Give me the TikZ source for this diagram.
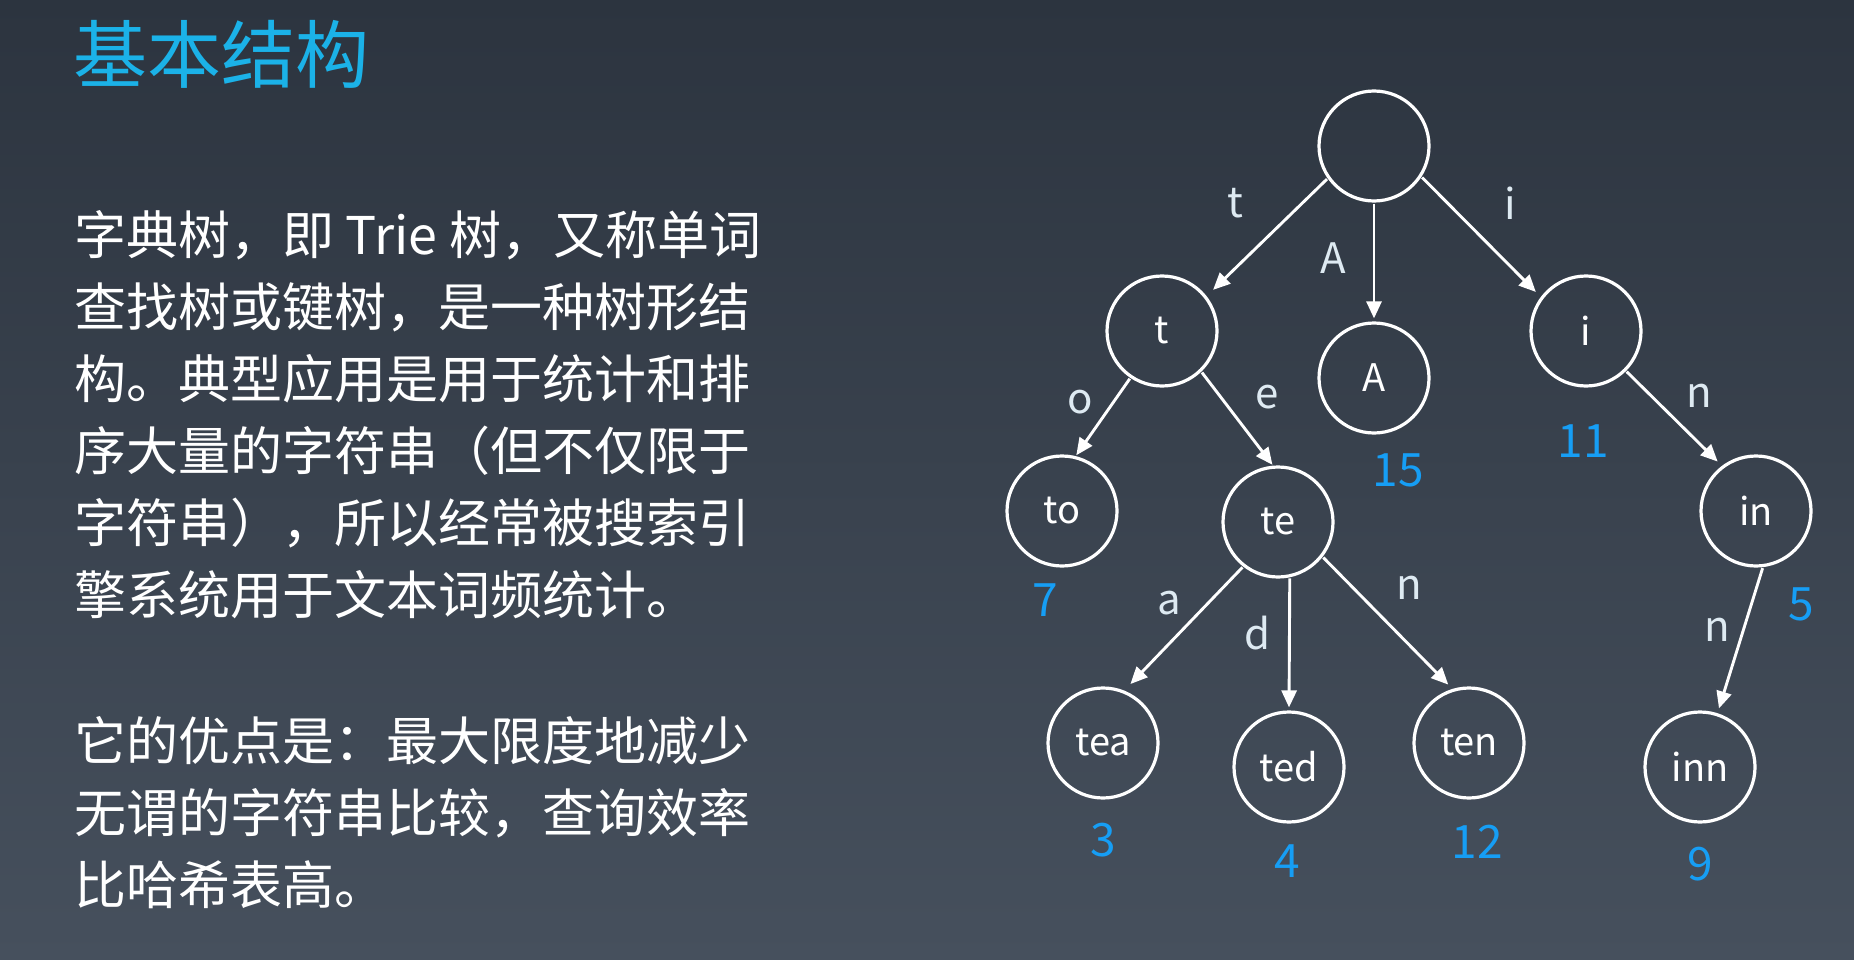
\documentclass[tikz,border=0pt]{standalone}
\usepackage{fontspec}
\setmainfont{Noto Sans CJK SC}
\usetikzlibrary{arrows.meta}
\definecolor{bgtop}{RGB}{44,52,63}
\definecolor{bgbot}{RGB}{70,80,93}
\definecolor{titleblue}{RGB}{27,178,232}
\definecolor{numblue}{RGB}{22,158,245}
\definecolor{lblcol}{RGB}{222,234,242}
\begin{document}
\begin{tikzpicture}[x=1pt,y=-1pt,
  trienode/.style={circle, draw=white, line width=3.2pt, minimum size=110pt, inner sep=0pt,
    text=white, font=\fontsize{38}{38}\selectfont},
  arr/.style={draw=white, line width=2.9pt, -{Triangle[length=17pt,width=15pt]},
    shorten <=1pt},
  edgelbl/.style={inner sep=0pt, text=lblcol, font=\fontsize{42}{42}\selectfont},
  countlbl/.style={inner sep=0pt, text=numblue, font=\fontsize{46}{46}\selectfont},
  bodyline/.style={anchor=base west, inner sep=0pt, text=white, font=\fontsize{52}{52}\selectfont},
  titletext/.style={anchor=base west, inner sep=0pt, text=titleblue, font=\fontsize{74}{74}\selectfont}]
\shade[top color=bgtop, bottom color=bgbot] (0,0) rectangle (1854,960);
\useasboundingbox (0,0) rectangle (1854,960);

% title and text
\node[titletext] (title) at (73,83) {基本结构};
\node[bodyline] (p1) at (74,254) {字典树，即 Trie 树，又称单词};
\node[bodyline] (p2) at (74,326) {查找树或键树，是一种树形结};
\node[bodyline] (p3) at (74,398) {构。典型应用是用于统计和排};
\node[bodyline] (p4) at (74,470) {序大量的字符串（但不仅限于};
\node[bodyline] (p5) at (74,542) {字符串），所以经常被搜索引};
\node[bodyline] (p6) at (74,614) {擎系统用于文本词频统计。};
\node[bodyline] (q1) at (74,760) {它的优点是：最大限度地减少};
\node[bodyline] (q2) at (74,832) {无谓的字符串比较，查询效率};
\node[bodyline] (q3) at (74,904) {比哈希表高。};

% trie nodes
\node[trienode] (root) at (1374,146) {};
\node[trienode] (t)    at (1162,331) {t};
\node[trienode] (A)    at (1374,378) {A};
\node[trienode] (i)    at (1586,331) {i};
\node[trienode] (to)   at (1062,511) {to};
\node[trienode] (te)   at (1278,522) {te};
\node[trienode] (in)   at (1756,511) {in};
\node[trienode] (tea)  at (1103,743) {tea};
\node[trienode] (ted)  at (1289,767) {ted};
\node[trienode] (ten)  at (1469,743) {ten};
\node[trienode] (inn)  at (1700,767) {inn};

% edges
\draw[arr, shorten >=9pt] (root.215) -- (t.38);
\draw[arr, shorten >=3pt] (root.270) -- (A.90);
\draw[arr, shorten >=7pt] (root.327) -- (i.143);
\draw[arr, shorten >=1pt] (t.236) -- (to.76);
\draw[arr, shorten >=1pt] (t.314) -- (te.95);
\draw[arr, shorten >=9pt] (te.232) -- (tea.68);
\draw[arr, shorten >=3pt] (te.282) -- (ted.90);
\draw[arr, shorten >=6pt] (te.322) -- (ten.107);
\draw[arr, shorten >=6pt] (i.315) -- (in.127);
\draw[arr, shorten >=5pt] (in.277) -- (inn.72);

% edge labels
\node[edgelbl] (lt)   at (1235,203) {t};
\node[edgelbl] (lA)   at (1333,258) {A};
\node[edgelbl] (li)   at (1510,203) {i};
\node[edgelbl] (lo)   at (1080,402) {o};
\node[edgelbl] (le)   at (1267,397) {e};
\node[edgelbl] (ln1)  at (1699,396) {n};
\node[edgelbl] (la)   at (1169,603) {a};
\node[edgelbl] (ld)   at (1258,633) {d};
\node[edgelbl] (ln2)  at (1409,588) {n};
\node[edgelbl] (ln3)  at (1717,630) {n};

% counts
\node[countlbl] (c15) at (1398,470) {15};
\node[countlbl] (c11) at (1583,441) {11};
\node[countlbl] (c7)  at (1045,600) {7};
\node[countlbl] (c5)  at (1801,604) {5};
\node[countlbl] (c3)  at (1103,840) {3};
\node[countlbl] (c4)  at (1287,861) {4};
\node[countlbl] (c12) at (1477,842) {12};
\node[countlbl] (c9)  at (1700,864) {9};
\end{tikzpicture}
\end{document}
